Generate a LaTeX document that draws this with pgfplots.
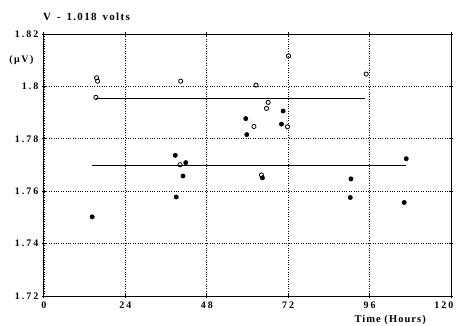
\documentclass[border=0pt]{standalone}
\usepackage{fontspec}
\setmainfont{Liberation Serif}
\usepackage{pgfplots}
\pgfplotsset{compat=1.18}
\begin{document}
\begin{tikzpicture}
\begin{axis}[
  name=ax,
  scale only axis,
  width=407pt, height=262pt,
  xmin=0, xmax=120, ymin=1.72, ymax=1.82,
  xtick={0,24,48,72,96},
  extra x ticks={120},
  extra x tick style={tick label style={anchor=north east, xshift=6pt}},
  ytick={1.72,1.74,1.76,1.78,1.8,1.82},
  yticklabels={1.72,1.74,1.76,1.78,1.8,1.82},
  grid=major,
  major grid style={black, dotted, line width=0.8pt},
  axis line style={black, line width=1pt},
  tick style={black, line width=1pt},
  major tick length=4pt,
  tick align=center,
  tick label style={font=\bfseries\fontsize{10}{11}\selectfont\addfontfeature{LetterSpace=20}},
  /pgf/number format/assume math mode=true,
  clip=false,
]
% open circles
\addplot[only marks, mark=o, mark size=2.1pt, black, line width=0.8pt] coordinates {
(15.5,1.8033) (15.8,1.8020) (15.3,1.7958) (40.3,1.8020) (62.5,1.8005)
(72.1,1.8116) (95.0,1.8047) (66.1,1.7939) (65.6,1.7916) (61.9,1.7847)
(71.8,1.7846) (40.1,1.7701) (64.1,1.7662)
};
% filled circles
\addplot[only marks, mark=*, mark size=2.2pt, black] coordinates {
(38.7,1.7737) (41.8,1.7709) (41.0,1.7658) (39.0,1.7578) (14.2,1.7502)
(59.5,1.7877) (59.8,1.7816) (70.5,1.7906) (70.0,1.7856) (106.8,1.7724)
(64.4,1.7651) (90.5,1.7647) (90.3,1.7576) (106.2,1.7557)
};
% mean lines
\addplot[black, line width=0.9pt] coordinates {(15.3,1.7953) (94.7,1.7953)};
\addplot[black, line width=0.9pt] coordinates {(14.2,1.7699) (106.8,1.7699)};
\node[anchor=east, font=\bfseries\fontsize{10}{11}\selectfont\addfontfeature{LetterSpace=15}] at (axis cs:0,1.8100) [xshift=-7pt] {(μV)};
\node[anchor=north west, inner sep=0pt, font=\bfseries\fontsize{10.5}{11}\selectfont\addfontfeature{LetterSpace=10}] at (axis cs:91.5,1.72) [yshift=-19pt] {Time (Hours)};
\node[anchor=west, inner sep=0pt, font=\bfseries\fontsize{11}{12}\selectfont\addfontfeature{LetterSpace=12}] at (axis cs:0,1.82) [yshift=17pt, xshift=-1pt] {V \,-\, 1.018 \,volts};
\end{axis}
\pgfresetboundingbox
\path[use as bounding box] ([shift={(-44pt,-29pt)}]ax.south west) rectangle ([shift={(7pt,34pt)}]ax.north east);
\end{tikzpicture}
\end{document}
